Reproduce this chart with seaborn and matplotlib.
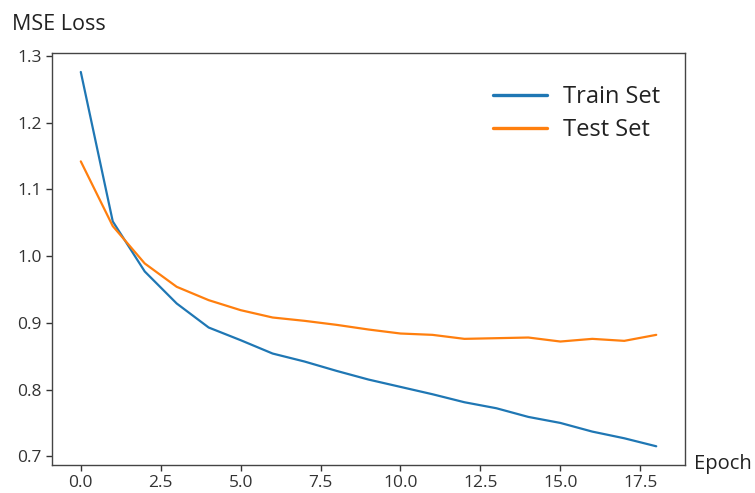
import matplotlib
matplotlib.use("Agg")
import matplotlib.pyplot as plt
import seaborn as sns
import pandas as pd

epochs = list(range(19))
train_loss = [1.276, 1.052, 0.977, 0.929, 0.893, 0.874, 0.854, 0.842, 0.828, 0.815,
              0.804, 0.793, 0.781, 0.772, 0.759, 0.750, 0.737, 0.727, 0.715]
test_loss = [1.142, 1.045, 0.989, 0.954, 0.934, 0.919, 0.908, 0.903, 0.897, 0.890,
             0.884, 0.882, 0.876, 0.877, 0.878, 0.872, 0.876, 0.873, 0.882]
series_names = ["Train Set", "Test Set"]

sns.set_style("ticks")
plt.rcParams["font.family"] = ["Open Sans", "DejaVu Sans"]

df = pd.concat([
    pd.DataFrame({"Epoch": epochs, "Loss": train_loss, "Set": series_names[0]}),
    pd.DataFrame({"Epoch": epochs, "Loss": test_loss, "Set": series_names[1]}),
])

fig = plt.figure(figsize=(7.55, 4.93), dpi=100)
ax = fig.add_axes([0.0689, 0.0568, 0.8384, 0.8352])
sns.lineplot(data=df, x="Epoch", y="Loss", hue="Set", palette=["#1f77b4", "#ff7f0e"],
             linewidth=1.6, ax=ax)

ax.set_xticks([0, 2.5, 5, 7.5, 10, 12.5, 15, 17.5])
ax.set_xticklabels(["0.0", "2.5", "5.0", "7.5", "10.0", "12.5", "15.0", "17.5"])
ax.set_yticks([0.7, 0.8, 0.9, 1.0, 1.1, 1.2, 1.3])
ax.tick_params(labelsize=12.5, length=4, width=1, colors="#333333")
for s in ax.spines.values():
    s.set_color("#444444")
    s.set_linewidth(1)
ax.set_xlabel("")
ax.set_ylabel("")

leg = ax.legend(frameon=False, fontsize=17, handlelength=2.3, loc="upper right",
                bbox_to_anchor=(0.995, 0.975), labelspacing=0.4, handletextpad=0.7)
for ln in leg.get_lines():
    ln.set_linewidth(2.4)
for t in leg.get_texts():
    t.set_color("#222222")

fig.text(12 / 755, 1 - 24 / 493, "MSE Loss", fontsize=15.5, ha="left", va="center", color="#222222")
fig.text(694 / 755, 1 - 464 / 493, "Epoch", fontsize=14.5, ha="left", va="center", color="#222222")

fig.savefig("out.png", dpi=100)
